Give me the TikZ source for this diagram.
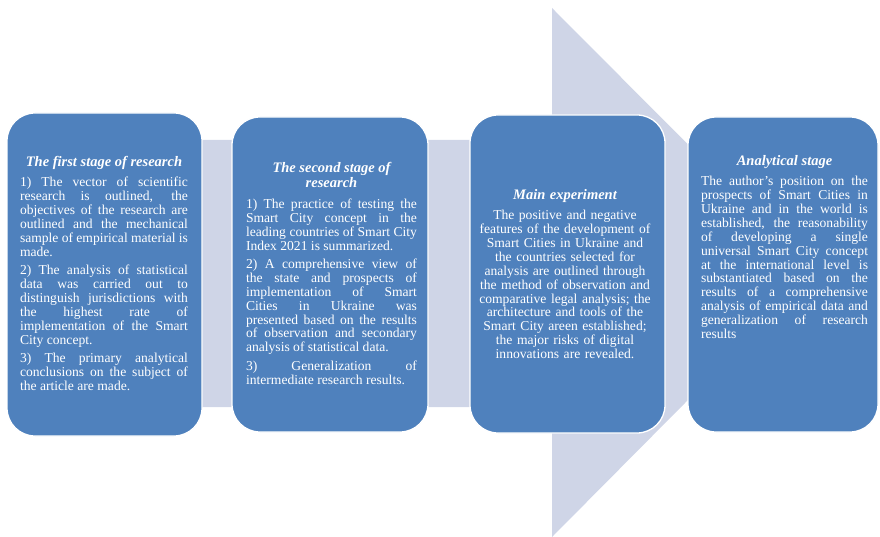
\documentclass[tikz,border=0pt]{standalone}
\usepackage{fontspec}
\setmainfont{Liberation Serif}
\usepackage{tikz}
\definecolor{stageblue}{RGB}{79,129,189}
\definecolor{bandgray}{RGB}{207,213,231}
\newcommand{\stagehead}[1]{{\centering\fontsize{14.5}{15.5}\selectfont\bfseries\itshape #1\par}\vspace{2pt}}

\begin{document}
\begin{tikzpicture}[x=1pt, y=-1pt]
\tikzset{stagebox/.style={draw=white, line width=1.3pt, fill=stageblue, rounded corners=28pt, inner sep=0pt}}
\tikzset{stagetext/.style={text=white, text width=168pt, align=justify, anchor=north, inner sep=0pt,
  font={\fontsize{13.6}{13.9}\selectfont\setlength{\parskip}{4.5pt}}}}
\useasboundingbox (0,0) rectangle (880,537);
\fill[bandgray] (100,140) -- (552,140) -- (552,8) -- (815,272) -- (552,537) -- (552,407) -- (100,407) -- cycle;
\node[stagebox, minimum width=195pt, minimum height=323pt] (first) at (104.5,274.5) {};
\node[stagebox, minimum width=196pt, minimum height=315pt] (second) at (330,274.5) {};
\node[stagebox, minimum width=195pt, minimum height=318pt] (main) at (567.5,274) {};
\node[stagebox, minimum width=190pt, minimum height=315pt] (analytic) at (783,274.5) {};
\node[stagetext] (firsttext) at ([xshift=-0.5pt]first.center |- 0,156) {\stagehead{The first stage of research}
1) The vector of scientific \linebreak research is outlined, the \linebreak objectives of the research are \linebreak outlined and the mechanical \linebreak sample of empirical material is \linebreak made.\par
2) The analysis of statistical \linebreak data was carried out to \linebreak distinguish jurisdictions with \linebreak the highest rate of \linebreak implementation of the Smart \linebreak City concept.\par
3) The primary analytical \linebreak conclusions on the subject of \linebreak the article are made.};
\node[stagetext, text width=171pt] (secondtext) at ([xshift=1.5pt]second.center |- 0,162) {\stagehead{The second stage of\\ research}
1) The practice of testing the \linebreak Smart City concept in the \linebreak leading countries of Smart City \linebreak Index 2021 is summarized.\par
2) A comprehensive view of \linebreak the state and prospects of \linebreak implementation of Smart \linebreak Cities in Ukraine was \linebreak presented based on the results \linebreak of observation and secondary \linebreak analysis of statistical data.\par
3) Generalization of \linebreak intermediate research results.};
\node[stagetext, align=center, text width=185pt] (maintext) at ([xshift=-2.5pt]main.center |- 0,189) {\stagehead{Main experiment}
The positive and negative\\ features of the development of\\ Smart Cities in Ukraine and\\ the countries selected for\\ analysis are outlined through\\ the method of observation and\\ comparative legal analysis; the\\ architecture and tools of the\\ Smart City areen established;\\ the major risks of digital\\ innovations are revealed.};
\node[stagetext, text width=167pt] (analytictext) at ([xshift=1.5pt]analytic.center |- 0,155) {\stagehead{Analytical stage}
The author's position on the \linebreak prospects of Smart Cities in \linebreak Ukraine and in the world is \linebreak established, the reasonability \linebreak of developing a single \linebreak universal Smart City concept \linebreak at the international level is \linebreak substantiated based on the \linebreak results of a comprehensive \linebreak analysis of empirical data and \linebreak generalization of research \linebreak results};
\end{tikzpicture}
\end{document}
